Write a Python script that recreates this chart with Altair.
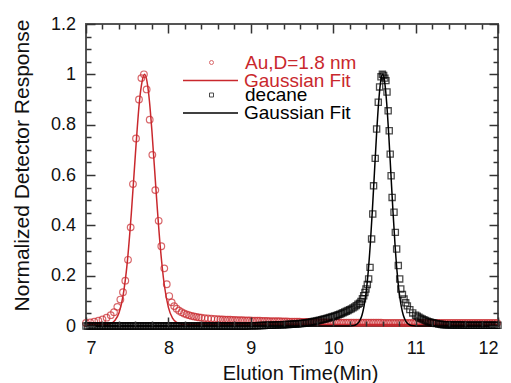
import altair as alt
import pandas as pd

RED = "#c9282d"
BLACK = "#000000"
FRAME = "#555555"
FONT = "Liberation Sans"

# Au, D=1.8 nm measured points (elution time, normalized response)
red_points = [
    (7.00, 0.012), (7.05, 0.014), (7.10, 0.017), (7.15, 0.021), (7.20, 0.026),
    (7.25, 0.033), (7.30, 0.043), (7.34, 0.055), (7.38, 0.076),
    (7.417, 0.105), (7.449, 0.134), (7.477, 0.18), (7.51, 0.263), (7.542, 0.392),
    (7.57, 0.564), (7.607, 0.745), (7.643, 0.90), (7.672, 0.985), (7.703, 1.0),
    (7.736, 0.94), (7.773, 0.82), (7.805, 0.68), (7.841, 0.54), (7.882, 0.418),
    (7.914, 0.317), (7.95, 0.229), (7.98, 0.166), (8.01, 0.119),
    (8.04, 0.094), (8.07, 0.079), (8.10, 0.069), (8.13, 0.061), (8.16, 0.055),
    (8.19, 0.050), (8.22, 0.046), (8.25, 0.043), (8.28, 0.040), (8.31, 0.038),
    (8.34, 0.036), (8.37, 0.034), (8.40, 0.033),
    (8.44, 0.031), (8.48, 0.030), (8.52, 0.029), (8.56, 0.028), (8.60, 0.027),
    (8.63, 0.026), (8.66, 0.026), (8.69, 0.025), (8.72, 0.025), (8.75, 0.025),
    (8.78, 0.024), (8.81, 0.024), (8.84, 0.023), (8.87, 0.023), (8.90, 0.023),
    (8.93, 0.022), (8.96, 0.022), (8.99, 0.022), (9.02, 0.021), (9.05, 0.021),
    (9.08, 0.021), (9.11, 0.021), (9.14, 0.020), (9.17, 0.020), (9.20, 0.020),
    (9.23, 0.019), (9.26, 0.019), (9.29, 0.019), (9.32, 0.019), (9.35, 0.019),
    (9.38, 0.018), (9.41, 0.018), (9.44, 0.018), (9.47, 0.017), (9.50, 0.017),
    (9.53, 0.017), (9.56, 0.017), (9.59, 0.017), (9.62, 0.016), (9.65, 0.016),
    (9.68, 0.016), (9.71, 0.016), (9.74, 0.016), (9.77, 0.015), (9.80, 0.015),
    (9.83, 0.015), (9.86, 0.015), (9.89, 0.014), (9.92, 0.014), (9.95, 0.014),
    (9.98, 0.014), (10.01, 0.014), (10.04, 0.014), (10.07, 0.013), (10.10, 0.013),
    (10.13, 0.013), (10.16, 0.013), (10.19, 0.013), (10.22, 0.013), (10.25, 0.013),
    (10.28, 0.013), (10.31, 0.013), (10.34, 0.013), (10.37, 0.013), (10.40, 0.013),
    (10.43, 0.013), (10.46, 0.013), (10.49, 0.013), (10.52, 0.013), (10.55, 0.013),
    (10.58, 0.013), (10.61, 0.012), (10.64, 0.012), (10.67, 0.012), (10.70, 0.012),
    (10.73, 0.012), (10.76, 0.012), (10.79, 0.012), (10.82, 0.012), (10.85, 0.012),
    (10.88, 0.012), (10.91, 0.012), (10.94, 0.012), (10.97, 0.012), (11.00, 0.012),
    (11.03, 0.012), (11.06, 0.012), (11.09, 0.012), (11.12, 0.012), (11.15, 0.012),
    (11.18, 0.012), (11.21, 0.012), (11.24, 0.012), (11.27, 0.012), (11.30, 0.012),
    (11.33, 0.012), (11.36, 0.012), (11.39, 0.012), (11.42, 0.012), (11.45, 0.012),
    (11.48, 0.012), (11.51, 0.012), (11.54, 0.012), (11.57, 0.012), (11.60, 0.012),
    (11.63, 0.012), (11.66, 0.012), (11.69, 0.012), (11.72, 0.012), (11.75, 0.012),
    (11.78, 0.012), (11.81, 0.012), (11.84, 0.012), (11.87, 0.012), (11.90, 0.012),
    (11.93, 0.012), (11.96, 0.012), (11.99, 0.012),
]

# Au Gaussian fit curve
red_fit = [
    (7.00, 0.006), (7.20, 0.006), (7.25, 0.007), (7.30, 0.010), (7.35, 0.022),
    (7.40, 0.052), (7.45, 0.121), (7.50, 0.25), (7.55, 0.447), (7.60, 0.685),
    (7.65, 0.897), (7.68, 0.97), (7.71, 1.0), (7.74, 0.972), (7.77, 0.893),
    (7.80, 0.775), (7.85, 0.538), (7.90, 0.32), (7.95, 0.164), (8.00, 0.074),
    (8.05, 0.031), (8.10, 0.014), (8.15, 0.008), (8.25, 0.006), (12.00, 0.006),
]

# decane measured points
decane_points = [
    (7.00, 0.0), (7.02, 0.0), (7.04, 0.0), (7.06, 0.0), (7.08, 0.0), (7.10, 0.0),
    (7.12, 0.0), (7.14, 0.0), (7.16, 0.0), (7.18, 0.0), (7.20, 0.0), (7.22, 0.0),
    (7.24, 0.0), (7.26, 0.0), (7.28, 0.0), (7.30, 0.0), (7.32, 0.0), (7.34, 0.0),
    (7.36, 0.0), (7.38, 0.0), (7.40, 0.0), (7.42, 0.0), (7.44, 0.0), (7.46, 0.0),
    (7.48, 0.0), (7.50, 0.0), (7.52, 0.0), (7.54, 0.0), (7.56, 0.0), (7.58, 0.0),
    (7.60, 0.0), (7.62, 0.0), (7.64, 0.0), (7.66, 0.0), (7.68, 0.0), (7.70, 0.0),
    (7.72, 0.0), (7.74, 0.0), (7.76, 0.0), (7.78, 0.0), (7.80, 0.0), (7.82, 0.0),
    (7.84, 0.0), (7.86, 0.0), (7.88, 0.0), (7.90, 0.0), (7.92, 0.0), (7.94, 0.0),
    (7.96, 0.0), (7.98, 0.0), (8.00, 0.0), (8.02, 0.0), (8.04, 0.0), (8.06, 0.0),
    (8.08, 0.0), (8.10, 0.0), (8.12, 0.0), (8.14, 0.0), (8.16, 0.0), (8.18, 0.0),
    (8.20, 0.0), (8.22, 0.0), (8.24, 0.0), (8.26, 0.0), (8.28, 0.0), (8.30, 0.0),
    (8.32, 0.0), (8.34, 0.0), (8.36, 0.0), (8.38, 0.0), (8.40, 0.0), (8.42, 0.0),
    (8.44, 0.0), (8.46, 0.0), (8.48, 0.0), (8.50, 0.0), (8.52, 0.0), (8.54, 0.0),
    (8.56, 0.0), (8.58, 0.0), (8.60, 0.0), (8.62, 0.0), (8.64, 0.0), (8.66, 0.0),
    (8.68, 0.0), (8.70, 0.0), (8.72, 0.0), (8.74, 0.0), (8.76, 0.0), (8.78, 0.0),
    (8.80, 0.0), (8.82, 0.0), (8.84, 0.0), (8.86, 0.0), (8.88, 0.0), (8.90, 0.0),
    (8.92, 0.0), (8.94, 0.0), (8.96, 0.0), (8.98, 0.001), (9.00, 0.001), (9.02, 0.001),
    (9.04, 0.001), (9.06, 0.001), (9.08, 0.001), (9.10, 0.002), (9.12, 0.002), (9.14, 0.002),
    (9.16, 0.002), (9.18, 0.003), (9.20, 0.003), (9.22, 0.003), (9.24, 0.003), (9.26, 0.003),
    (9.28, 0.004), (9.30, 0.004), (9.32, 0.004), (9.34, 0.005), (9.36, 0.005), (9.38, 0.005),
    (9.40, 0.005), (9.42, 0.006), (9.44, 0.006), (9.46, 0.006), (9.48, 0.007), (9.50, 0.007),
    (9.52, 0.008), (9.54, 0.008), (9.56, 0.008), (9.58, 0.009), (9.60, 0.010), (9.62, 0.010),
    (9.64, 0.011), (9.66, 0.012), (9.68, 0.013), (9.70, 0.014), (9.72, 0.015), (9.74, 0.016),
    (9.76, 0.018), (9.78, 0.019), (9.80, 0.020), (9.82, 0.022), (9.84, 0.023), (9.86, 0.025),
    (9.88, 0.027), (9.90, 0.028), (9.92, 0.030), (9.94, 0.032), (9.96, 0.034), (9.98, 0.036),
    (10.00, 0.038), (10.02, 0.040), (10.04, 0.042), (10.06, 0.045), (10.08, 0.047),
    (10.10, 0.050), (10.12, 0.053), (10.14, 0.056), (10.16, 0.059), (10.18, 0.062),
    (10.20, 0.065), (10.22, 0.068), (10.24, 0.072), (10.26, 0.076), (10.28, 0.081),
    (10.30, 0.086), (10.32, 0.090),
    (10.337, 0.097), (10.355, 0.108), (10.37, 0.12), (10.385, 0.133), (10.398, 0.147),
    (10.414, 0.165), (10.43, 0.187), (10.447, 0.233), (10.466, 0.346), (10.48, 0.445),
    (10.49, 0.557), (10.51, 0.666), (10.527, 0.783), (10.547, 0.889), (10.563, 0.95),
    (10.58, 0.99), (10.597, 1.0), (10.612, 0.995), (10.627, 0.985), (10.64, 0.975),
    (10.653, 0.93), (10.667, 0.855), (10.68, 0.776), (10.692, 0.683), (10.703, 0.597),
    (10.715, 0.511), (10.738, 0.452), (10.754, 0.372), (10.77, 0.306), (10.79, 0.24),
    (10.807, 0.187), (10.82, 0.147), (10.84, 0.125), (10.86, 0.107), (10.88, 0.092),
    (10.90, 0.080), (10.93, 0.065), (10.965, 0.052), (11.00, 0.043), (11.02, 0.039),
    (11.04, 0.035), (11.06, 0.031), (11.08, 0.028), (11.10, 0.025), (11.12, 0.022),
    (11.14, 0.019), (11.16, 0.017), (11.18, 0.015), (11.20, 0.013), (11.22, 0.012),
    (11.25, 0.010), (11.28, 0.008), (11.30, 0.007), (11.32, 0.006), (11.34, 0.005),
    (11.36, 0.005), (11.38, 0.005), (11.40, 0.005), (11.42, 0.004), (11.44, 0.004),
    (11.46, 0.004), (11.48, 0.004), (11.50, 0.004), (11.52, 0.004), (11.54, 0.004),
    (11.56, 0.004), (11.58, 0.003), (11.60, 0.003), (11.62, 0.003), (11.64, 0.003),
    (11.66, 0.003), (11.68, 0.003), (11.70, 0.003), (11.72, 0.003), (11.74, 0.003),
    (11.76, 0.003), (11.78, 0.003), (11.80, 0.003), (11.82, 0.003), (11.84, 0.003),
    (11.86, 0.003), (11.88, 0.003), (11.90, 0.003), (11.92, 0.003), (11.94, 0.003),
    (11.96, 0.003), (11.98, 0.003), (12.00, 0.003),
]

# decane Gaussian fit curve
decane_fit = [
    (7.00, 0.0), (10.20, 0.0003), (10.25, 0.002), (10.275, 0.005), (10.30, 0.011),
    (10.325, 0.023), (10.35, 0.044), (10.375, 0.08), (10.40, 0.135), (10.425, 0.216),
    (10.45, 0.325), (10.475, 0.458), (10.50, 0.607), (10.525, 0.755), (10.55, 0.882),
    (10.575, 0.969), (10.60, 1.0), (10.625, 0.969), (10.65, 0.882), (10.675, 0.755),
    (10.70, 0.607), (10.725, 0.458), (10.75, 0.325), (10.775, 0.216), (10.80, 0.135),
    (10.825, 0.08), (10.85, 0.044), (10.875, 0.023), (10.90, 0.011), (10.925, 0.005),
    (10.95, 0.002), (11.00, 0.0003), (12.00, 0.0),
]

series_names = ["Au,D=1.8 nm", "Gaussian Fit", "decane", "Gaussian Fit"]
x_major = [7, 8, 9, 10, 11, 12]
x_minor = [7.2, 7.4, 7.6, 7.8, 8.2, 8.4, 8.6, 8.8, 9.2, 9.4, 9.6, 9.8,
           10.2, 10.4, 10.6, 10.8, 11.2, 11.4, 11.6, 11.8]
y_major = [0, 0.2, 0.4, 0.6, 0.8, 1.0, 1.2]
y_minor = [0.05, 0.1, 0.15, 0.25, 0.3, 0.35, 0.45, 0.5, 0.55, 0.65, 0.7, 0.75,
           0.85, 0.9, 0.95, 1.05, 1.1, 1.15]


def to_df(pairs, name):
    return pd.DataFrame({"t": [p[0] for p in pairs], "v": [p[1] for p in pairs], "s": name})


W, H = 412, 302
xs = alt.Scale(domain=[7, 12], nice=False, zero=False)
ys = alt.Scale(domain=[0, 1.2], nice=False, zero=False)


def axis(orient, values, size, **kw):
    return alt.Axis(orient=orient, values=values, tickSize=size, offset=-size,
                    domain=False, grid=False, ticks=True, tickColor="#333333",
                    tickWidth=1.5, tickOpacity=1, zindex=1, **kw)


def quiet(orient, values, size):
    return axis(orient, values, size, labels=False, title="")


def legend(x, y, symbol, size, color, offset, sw=1.0):
    return alt.Legend(title=None, orient="none", legendX=x, legendY=y,
                      symbolType=symbol, symbolSize=size, symbolStrokeWidth=sw,
                      labelColor=color, labelFont=FONT, labelFontSize=19,
                      labelOffset=offset, padding=0, labelLimit=300)


red_pts = alt.Chart(to_df(red_points, series_names[0])).mark_point(
    shape="circle", filled=False, size=44, strokeWidth=1.2
).encode(
    x=alt.X("t:Q", scale=xs, axis=axis(
        "bottom", x_major, 9, labels=True, title="Elution Time(Min)",
        labelPadding=13, labelFontSize=18, titleFontSize=20,
        titleX=214, titleY=62, titleBaseline="alphabetic")),
    y=alt.Y("v:Q", scale=ys, axis=axis(
        "left", y_major, 9, labels=True, title="Normalized Detector Response",
        format="~g", labelPadding=10.5, labelFontSize=18, titleFontSize=21,
        titleX=-67, titleY=141, titleBaseline="alphabetic")),
    stroke=alt.Stroke("s:N", scale=alt.Scale(domain=[series_names[0]], range=[RED]),
                      legend=legend(116, 29, "circle", 16, RED, 24)),
)

red_line = alt.Chart(to_df(red_fit, series_names[1])).mark_line(
    strokeWidth=1.5, interpolate="monotone"
).encode(
    x=alt.X("t:Q", scale=xs, axis=quiet("bottom", x_minor, 5)),
    y=alt.Y("v:Q", scale=ys, axis=quiet("left", y_minor, 5)),
    stroke=alt.Stroke("s:N", scale=alt.Scale(domain=[series_names[1]], range=[RED]),
                      legend=legend(96, 28, "stroke", 3025, RED, 5, 1.5)),
)

blk_pts = alt.Chart(to_df(decane_points, series_names[2])).mark_point(
    shape="square", filled=False, size=38, strokeWidth=1.3
).encode(
    x=alt.X("t:Q", scale=xs, axis=quiet("top", x_major, 9)),
    y=alt.Y("v:Q", scale=ys, axis=quiet("right", y_major, 9)),
    stroke=alt.Stroke("s:N", scale=alt.Scale(domain=[series_names[2]], range=[BLACK]),
                      legend=legend(116, 61.5, "square", 16, BLACK, 24)),
)

blk_line = alt.Chart(to_df(decane_fit, series_names[3])).mark_line(
    strokeWidth=1.5, interpolate="monotone"
).encode(
    x=alt.X("t:Q", scale=xs, axis=quiet("top", x_minor, 5)),
    y=alt.Y("v:Q", scale=ys, axis=quiet("right", y_minor, 5)),
    stroke=alt.Stroke("s:N", scale=alt.Scale(domain=[series_names[3]], range=[BLACK]),
                      legend=legend(96, 60.5, "stroke", 3025, BLACK, 5, 1.5)),
)

chart = alt.layer(red_pts, red_line, blk_pts, blk_line).resolve_scale(
    stroke="independent"
).resolve_legend(
    stroke="independent"
).resolve_axis(
    x="independent", y="independent"
).properties(
    width=W, height=H,
    padding={"left": 78, "top": 16, "right": 5, "bottom": 57},
    autosize=alt.AutoSizeParams(type="none"),
).configure_view(
    stroke=FRAME, strokeWidth=2
).configure_axis(
    labelFont=FONT, titleFont=FONT, labelColor="#111111", titleColor="#111111",
    titleFontWeight="normal"
).configure_legend(
    labelFont=FONT
)

chart.save("out.html", embed_options={"renderer": "svg", "actions": False})
